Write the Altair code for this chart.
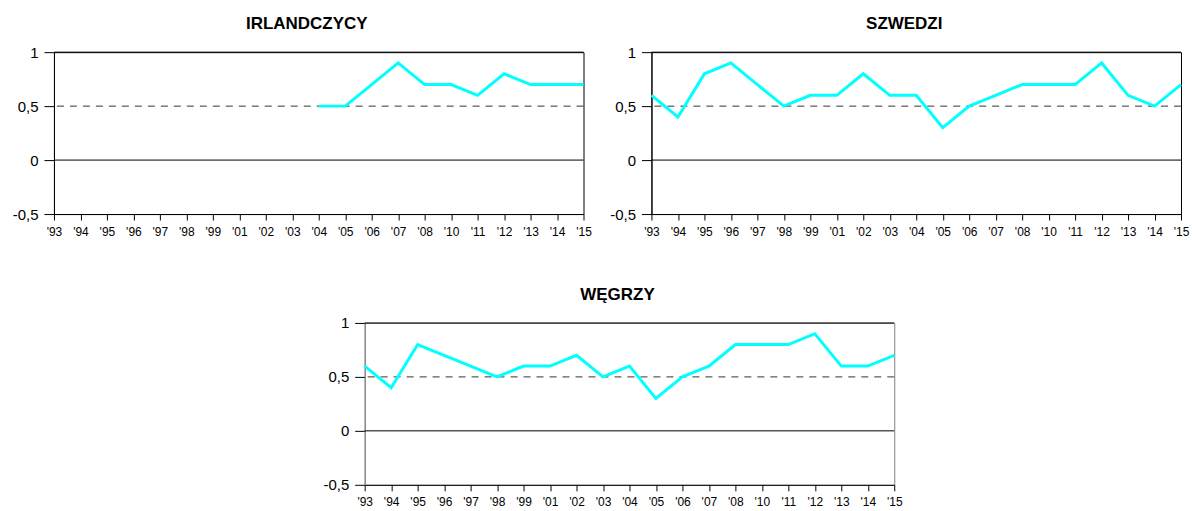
import altair as alt
import pandas as pd

years = ["'93", "'94", "'95", "'96", "'97", "'98", "'99", "'01", "'02", "'03", "'04",
         "'05", "'06", "'07", "'08", "'10", "'11", "'12", "'13", "'14", "'15"]

irlandczycy = [None, None, None, None, None, None, None, None, None, None, 0.5,
               0.5, 0.7, 0.9, 0.7, 0.7, 0.6, 0.8, 0.7, 0.7, 0.7]
szwedzi = [0.6, 0.4, 0.8, 0.9, 0.7, 0.5, 0.6, 0.6, 0.8, 0.6, 0.6,
           0.3, 0.5, 0.6, 0.7, 0.7, 0.7, 0.9, 0.6, 0.5, 0.7]
wegrzy = [0.6, 0.4, 0.8, 0.7, 0.6, 0.5, 0.6, 0.6, 0.7, 0.5, 0.6,
          0.3, 0.5, 0.6, 0.8, 0.8, 0.8, 0.9, 0.6, 0.6, 0.7]

titles = ["IRLANDCZYCY", "SZWEDZI", "WĘGRZY"]
y_ticks = [-0.5, 0, 0.5, 1]
solid_lines = [1, 0]
dashed_lines = [0.5]

FONT = "Liberation Sans"
W, H = 530, 162


def panel(title, values, stroke="black"):
    df = pd.DataFrame({"rok": years, "wartosc": values}).dropna()
    x = alt.X("rok:N", sort=years,
              scale=alt.Scale(domain=years, type="point", padding=0),
              axis=alt.Axis(title=None, labelAngle=0, labelFontSize=12, labelFont=FONT,
                            labelColor="black", tickColor="black", domainColor="black",
                            tickSize=6, labelPadding=6, grid=False))
    y = alt.Y("wartosc:Q", scale=alt.Scale(domain=[-0.5, 1], nice=False, zero=False),
              axis=alt.Axis(title=None, values=y_ticks, grid=False, labelFontSize=15,
                            labelFont=FONT, labelColor="black", tickColor="black",
                            domainColor=stroke, tickSize=10, labelPadding=6,
                            labelExpr="replace(toString(datum.value), '.', ',')"))
    base = alt.Chart(df)
    solid = alt.Chart(pd.DataFrame({"v": solid_lines})).mark_rule(
        color="black", strokeWidth=1).encode(y=alt.Y("v:Q"))
    dashed = alt.Chart(pd.DataFrame({"v": dashed_lines})).mark_rule(
        color="#333333", strokeWidth=1, strokeDash=[7, 6]).encode(y=alt.Y("v:Q"))
    line = base.mark_line(color="#00FFFF", strokeWidth=3).encode(x=x, y=y)
    return alt.layer(solid, dashed, line).properties(
        width=W, height=H,
        title=alt.TitleParams(title, fontSize=17, fontWeight="bold", font=FONT,
                              color="black", offset=12, anchor="middle",
                              frame="group", dx=-12),
        view=alt.ViewBackground(stroke=stroke, strokeWidth=1),
    )


p1 = panel(titles[0], irlandczycy)
p2 = panel(titles[1], szwedzi)
p3 = panel(titles[2], wegrzy, stroke="#808080")

spacer = alt.Chart(pd.DataFrame({"a": [0]})).mark_point(opacity=0).properties(
    width=1, height=H, view=alt.ViewBackground(stroke=None))

top = alt.hconcat(p1, p2, spacing=68, bounds="flush")
bottom = alt.hconcat(spacer, p3, spacing=310, bounds="flush")

chart = alt.vconcat(top, bottom, spacing=47).properties(
    padding={"left": 11, "top": 14, "right": 2, "bottom": 2},
    background="white",
).configure_view(stroke="black")

chart.save("out.html", embed_options={"renderer": "svg", "actions": False})
